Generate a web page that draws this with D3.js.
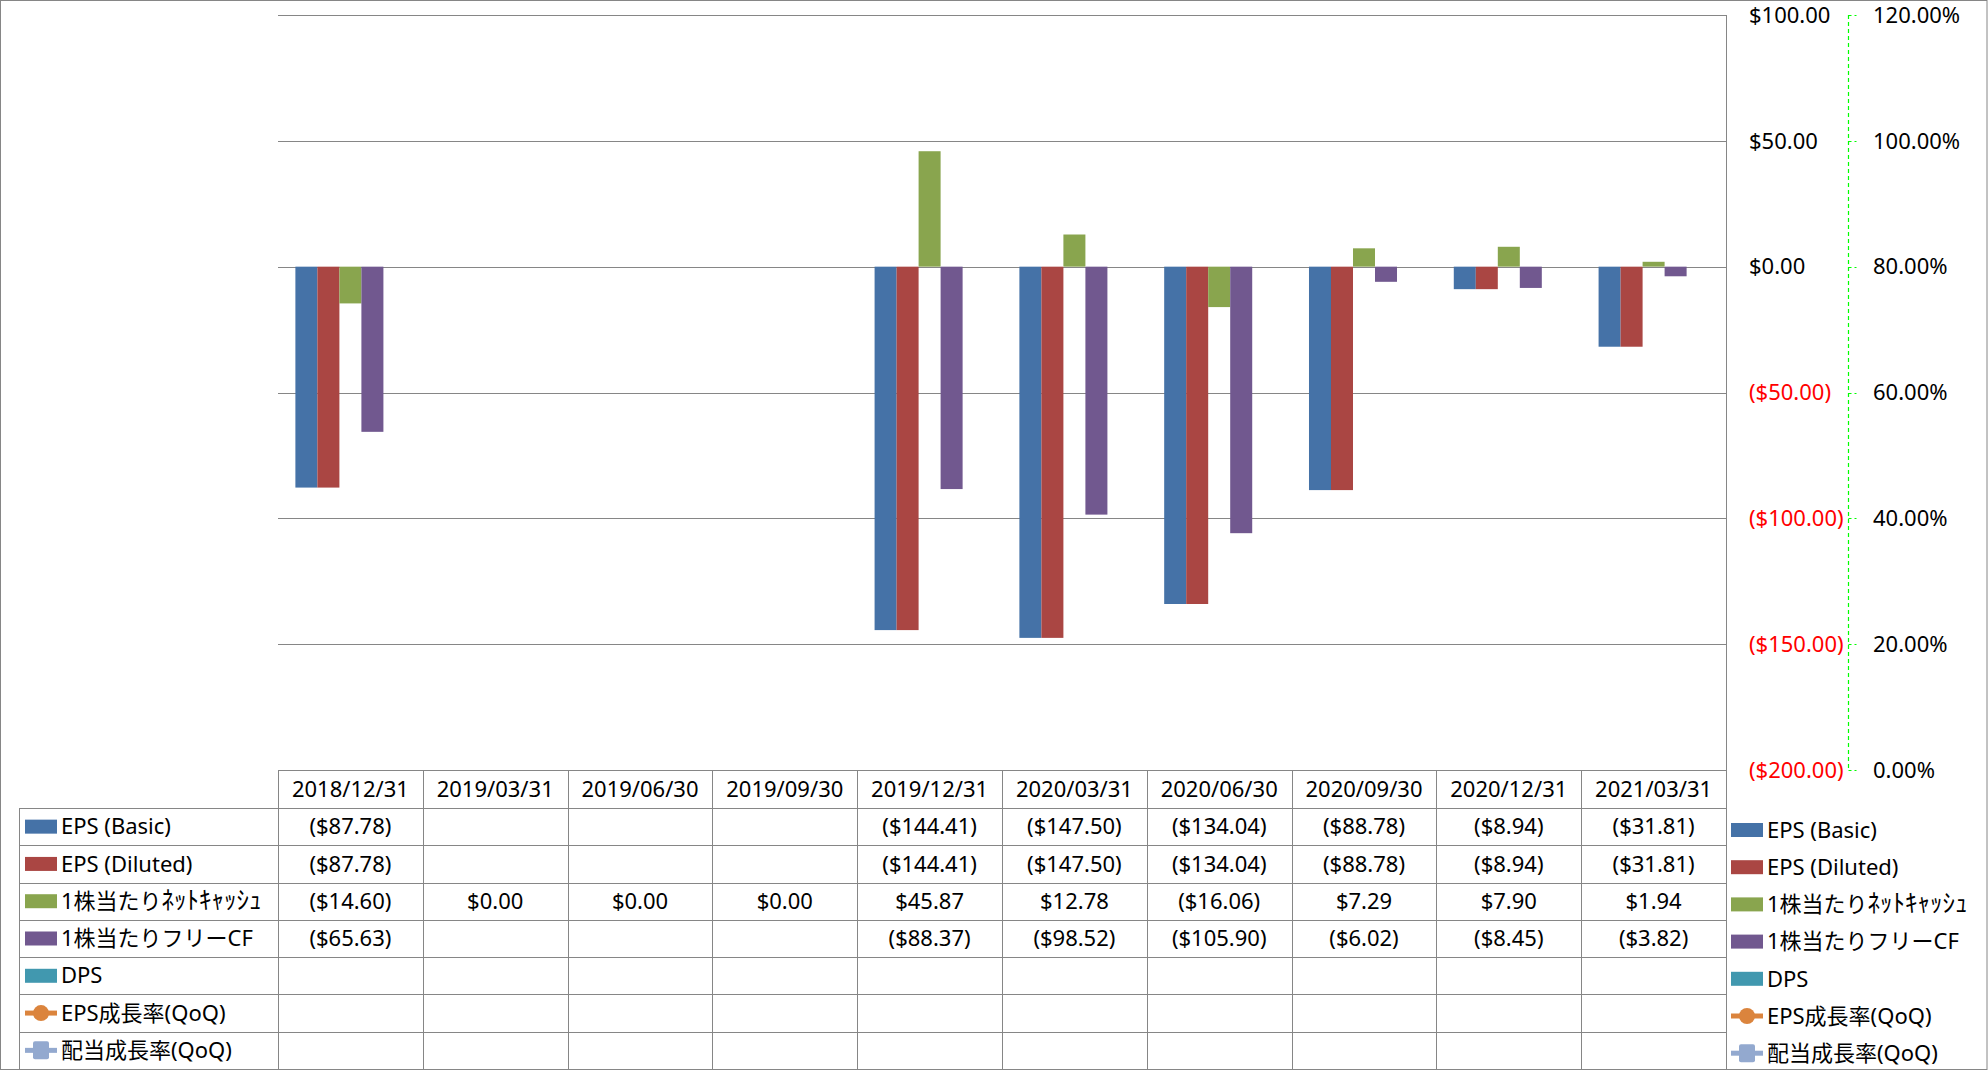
<!DOCTYPE html>
<html lang="ja">
<head>
<meta charset="UTF-8">
<title>EPS chart</title>
<script src="https://d3js.org/d3.v7.min.js"></script>
<style>
  body { margin: 0; background: #fff; }
  svg text { font-family: "Noto Sans", "Noto Sans CJK JP", sans-serif; fill: #000; }
</style>
</head>
<body>
<div id="chart"></div>
<script>
// ---- data ----
const dates = ["2018/12/31", "2019/03/31", "2019/06/30", "2019/09/30", "2019/12/31",
               "2020/03/31", "2020/06/30", "2020/09/30", "2020/12/31", "2021/03/31"];
const epsBasic   = [-87.78, null, null, null, -144.41, -147.50, -134.04, -88.78, -8.94, -31.81];
const epsDiluted = [-87.78, null, null, null, -144.41, -147.50, -134.04, -88.78, -8.94, -31.81];
const netCash    = [-14.60, 0, 0, 0, 45.87, 12.78, -16.06, 7.29, 7.90, 1.94];
const freeCF     = [-65.63, null, null, null, -88.37, -98.52, -105.90, -6.02, -8.45, -3.82];
const dps        = [null, null, null, null, null, null, null, null, null, null];
const epsGrowth  = [null, null, null, null, null, null, null, null, null, null];
const divGrowth  = [null, null, null, null, null, null, null, null, null, null];
const leftTicks  = [100, 50, 0, -50, -100, -150, -200];
const rightTicks = [1.2, 1.0, 0.8, 0.6, 0.4, 0.2, 0];

const series = [
  { name: "EPS (Basic)",       values: epsBasic,   color: "#4572A7", type: "bar" },
  { name: "EPS (Diluted)",     values: epsDiluted, color: "#AA4643", type: "bar" },
  { name: "1株当たりﾈｯﾄｷｬｯｼｭ", values: netCash,  color: "#89A54E", type: "bar", split: 5 },
  { name: "1株当たりフリーCF",  values: freeCF,     color: "#71588F", type: "bar" },
  { name: "DPS",               values: dps,        color: "#4198AF", type: "bar" },
  { name: "EPS成長率(QoQ)",     values: epsGrowth,  color: "#DB843D", type: "circle" },
  { name: "配当成長率(QoQ)",    values: divGrowth,  color: "#93A9CF", type: "square" }
];

const width = 1988, height = 1071;
const plot = { left: 278, right: 1726, top: 15, bottom: 770 };
const tableTop = 770, headerBottom = 808, tableBottom = 1069, labelLeft = 19;
const gridColor = "#868686";

const svg = d3.select("#chart").append("svg")
  .attr("width", width).attr("height", height);

const x = d3.scaleBand().domain(dates).range([plot.left, plot.right]);
const bars = series.filter(s => s.type === "bar");
const xs = d3.scaleBand().domain(bars.map(s => s.name))
  .range([0, x.bandwidth()]).paddingInner(0).paddingOuter(0.79);
const y = d3.scaleLinear().domain([-200, 100]).range([plot.bottom, plot.top]);
const y2 = d3.scaleLinear().domain([0, 1.2]).range([plot.bottom, plot.top]);

const money = v => v < 0 ? "($" + d3.format(",.2f")(-v) + ")" : "$" + d3.format(",.2f")(v);

// outer border
svg.append("rect").attr("x", 0.5).attr("y", 0.5)
  .attr("width", width - 1.5).attr("height", tableBottom)
  .attr("fill", "none").attr("stroke", gridColor);

// gridlines
svg.append("g").selectAll("line").data(leftTicks).join("line")
  .attr("x1", plot.left).attr("x2", plot.right)
  .attr("y1", d => Math.round(y(d)) + 0.5).attr("y2", d => Math.round(y(d)) + 0.5)
  .attr("stroke", gridColor).attr("stroke-width", 1);

// plot right edge continues to the table bottom
svg.append("line")
  .attr("x1", plot.right + 0.5).attr("x2", plot.right + 0.5)
  .attr("y1", plot.top).attr("y2", tableBottom)
  .attr("stroke", gridColor);

// bars
const gBars = svg.append("g");
bars.forEach(s => {
  gBars.selectAll(null)
    .data(s.values.map((v, i) => ({ v, d: dates[i] })).filter(p => p.v !== null && p.v !== 0))
    .join("rect")
    .attr("x", p => x(p.d) + xs(s.name))
    .attr("width", xs.bandwidth())
    .attr("y", p => y(Math.max(0, p.v)))
    .attr("height", p => Math.abs(y(p.v) - y(0)))
    .attr("fill", s.color);
});

// primary axis labels (left-aligned, negatives in red)
svg.append("g").selectAll("text").data(leftTicks).join("text")
  .attr("x", 1749).attr("y", d => y(d)).attr("dy", "0.35em")
  .attr("font-size", 22)
  .style("fill", d => d < 0 ? "#FF0000" : "#000")
  .text(money);

// secondary axis: green dashed line with ticks
const axisX = 1848.5;
svg.append("line").attr("x1", axisX).attr("x2", axisX)
  .attr("y1", y2(1.2)).attr("y2", y2(0))
  .attr("stroke", "#00FF00").attr("stroke-width", 1.2).attr("stroke-dasharray", "4,3");
svg.append("g").selectAll("line").data(rightTicks).join("line")
  .attr("x1", axisX).attr("x2", axisX + 8)
  .attr("y1", d => Math.round(y2(d)) + 0.5).attr("y2", d => Math.round(y2(d)) + 0.5)
  .attr("stroke", "#00FF00").attr("stroke-width", 1.2).attr("stroke-dasharray", "3,3");
svg.append("g").selectAll("text").data(rightTicks).join("text")
  .attr("x", 1873).attr("y", d => y2(d)).attr("dy", "0.35em")
  .attr("font-size", 22)
  .text(d => d3.format(".2%")(d));

// ---- data table ----
const rowH = (tableBottom - headerBottom) / series.length;
const rowY = i => headerBottom + i * rowH;
const tbl = svg.append("g").attr("stroke", gridColor).attr("stroke-width", 1);

// header row bottom + row separators
d3.range(series.length).forEach(i => {
  tbl.append("line").attr("x1", labelLeft).attr("x2", plot.right)
    .attr("y1", Math.round(rowY(i)) + 0.5).attr("y2", Math.round(rowY(i)) + 0.5);
});
// vertical column lines
dates.forEach(d => {
  tbl.append("line").attr("x1", Math.round(x(d)) + 0.5).attr("x2", Math.round(x(d)) + 0.5)
    .attr("y1", tableTop).attr("y2", tableBottom);
});
tbl.append("line").attr("x1", labelLeft + 0.5).attr("x2", labelLeft + 0.5)
  .attr("y1", headerBottom).attr("y2", tableBottom);

// header dates
svg.append("g").selectAll("text").data(dates).join("text")
  .attr("x", d => x(d) + x.bandwidth() / 2)
  .attr("y", (tableTop + headerBottom) / 2).attr("dy", "0.35em")
  .attr("text-anchor", "middle").attr("font-size", 22)
  .text(d => d);

// cell values
series.forEach((s, i) => {
  svg.append("g").selectAll("text")
    .data(s.values.map((v, j) => ({ v, d: dates[j] })).filter(p => p.v !== null))
    .join("text")
    .attr("x", p => x(p.d) + x.bandwidth() / 2)
    .attr("y", rowY(i) + rowH / 2).attr("dy", "0.35em")
    .attr("text-anchor", "middle").attr("font-size", 22)
    .text(p => money(p.v));
});

// legend key + label helper
function legendEntry(g, s, mx, cy) {
  if (s.type === "bar") {
    g.append("rect").attr("x", mx).attr("y", cy - 7).attr("width", 32).attr("height", 14)
      .attr("fill", s.color);
  } else {
    g.append("line").attr("x1", mx).attr("x2", mx + 32).attr("y1", cy).attr("y2", cy)
      .attr("stroke", s.color).attr("stroke-width", 5);
    if (s.type === "circle") {
      g.append("circle").attr("cx", mx + 16).attr("cy", cy).attr("r", 8).attr("fill", s.color);
    } else {
      g.append("rect").attr("x", mx + 8).attr("y", cy - 9).attr("width", 16).attr("height", 18)
        .attr("rx", 2).attr("fill", s.color);
    }
  }
  const t = g.append("text").attr("x", mx + 36).attr("y", cy).attr("dy", "0.35em")
    .attr("font-size", 22);
  if (s.split) {
    // half-width katakana tail drawn a little larger so it reads like the original
    t.append("tspan").text(s.name.slice(0, s.split));
    t.append("tspan").attr("font-size", 25).text(s.name.slice(s.split));
  } else {
    t.text(s.name);
  }
}

// row labels in table
const rowLabels = svg.append("g");
series.forEach((s, i) => legendEntry(rowLabels, s, 25, rowY(i) + rowH / 2));

// legend on the right
const legend = svg.append("g");
series.forEach((s, i) => legendEntry(legend, s, 1731, 830 + i * 37.2));
</script>
</body>
</html>
